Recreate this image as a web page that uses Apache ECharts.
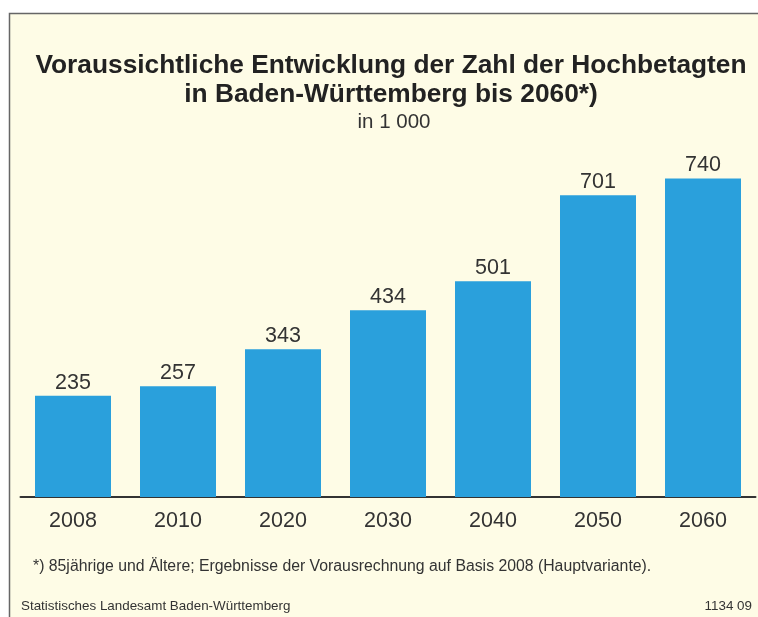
<!DOCTYPE html>
<html>
<head>
<meta charset="utf-8">
<script src="https://cdn.jsdelivr.net/npm/echarts@6/dist/echarts.min.js"></script>
<style>
  html, body { margin: 0; padding: 0; background: #fff; }
  #chart { width: 758px; height: 617px; }
</style>
</head>
<body>
<div id="chart"></div>
<script>
  // Hochbetagte (85+) in Baden-Württemberg, in 1 000
  const years = ['2008', '2010', '2020', '2030', '2040', '2050', '2060']
  const values = [235, 257, 343, 434, 501, 701, 740]

  const font = '"Liberation Sans", Arial, sans-serif'
  const chart = echarts.init(document.getElementById('chart'))
  chart.setOption({
    backgroundColor: '#ffffff',
    animation: false,
    textStyle: { fontFamily: font },
    title: [
      {
        text: 'Voraussichtliche Entwicklung der Zahl der Hochbetagten\nin Baden-Württemberg bis 2060*)',
        left: 386,
        textAlign: 'center',
        top: 46,
        textStyle: { fontSize: 26.3, fontWeight: 'bold', color: '#222', lineHeight: 29, fontFamily: font },
      },
      {
        text: 'in 1 000',
        left: 389,
        textAlign: 'center',
        top: 107,
        textStyle: { fontSize: 20.5, fontWeight: 'normal', color: '#333', fontFamily: font },
      },
    ],
    graphic: [
      {
        type: 'rect',
        z: -10,
        shape: { x: 9.5, y: 13.5, width: 760, height: 620 },
        style: { fill: '#fefce6', stroke: '#666', lineWidth: 1.5 },
      },
      {
        type: 'text',
        left: 33,
        top: 559,
        style: {
          text: '*) 85jährige und Ältere; Ergebnisse der Vorausrechnung auf Basis 2008 (Hauptvariante).',
          fontSize: 15.8, fill: '#333', fontFamily: font,
        },
      },
      {
        type: 'text',
        left: 21,
        top: 600,
        style: { text: 'Statistisches Landesamt Baden-Württemberg', fontSize: 13.4, fill: '#333', fontFamily: font },
      },
      {
        type: 'text',
        right: 6,
        top: 600,
        style: { text: '1134 09', fontSize: 13.4, fill: '#333', fontFamily: font },
      },
    ],
    grid: {
      left: 20.5,
      right: 2.5,
      top: 152.6,
      bottom: 120,
    },
    xAxis: {
      type: 'category',
      data: years,
      axisLine: { lineStyle: { color: '#333', width: 2 } },
      axisTick: { show: false },
      axisLabel: { fontSize: 21.5, color: '#333', margin: 13, fontFamily: font },
    },
    yAxis: {
      type: 'value',
      min: 0,
      max: 800,
      show: false,
      splitLine: { show: false },
    },
    series: [
      {
        type: 'bar',
        data: values,
        barWidth: 76,
        itemStyle: { color: '#2aa0dc' },
        label: {
          show: true,
          position: 'top',
          distance: 2,
          fontSize: 21.5,
          color: '#333',
          fontFamily: font,
        },
      },
    ],
  })
</script>
</body>
</html>
